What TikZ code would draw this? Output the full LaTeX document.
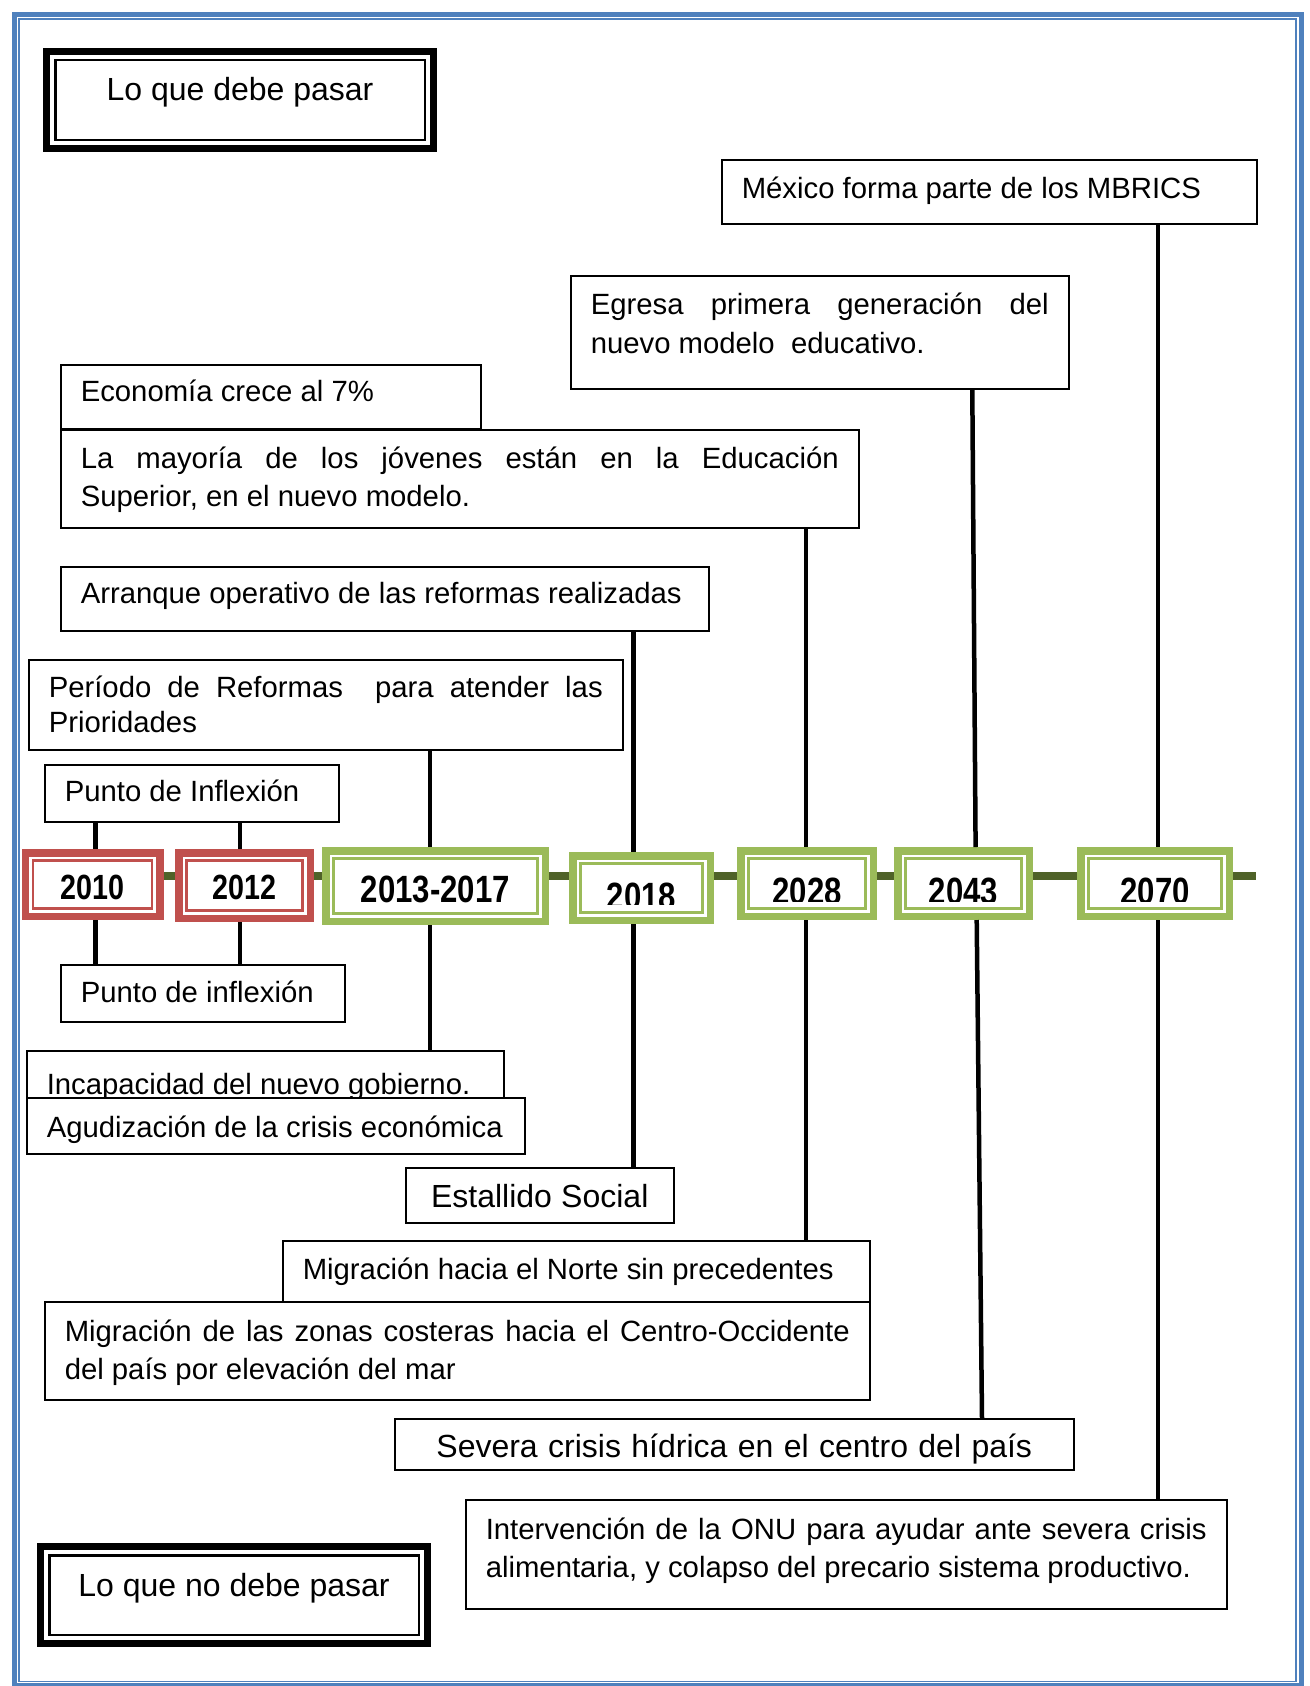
\documentclass[tikz,border=0pt]{standalone}
\usepackage{fontspec}
\setmainfont{Liberation Sans}
\usepackage{graphicx}
\definecolor{frameblue}{HTML}{4F81BD}
\definecolor{yrred}{HTML}{C0504D}
\definecolor{yrgreen}{HTML}{9BBB59}
\definecolor{tlolive}{HTML}{4F6228}
\newcommand\bodyfont{\fontsize{29.3}{38.7}\selectfont}
\newcommand\bigtxt{\fontsize{32}{38}\selectfont}
\newcommand\yrfontA{\fontsize{35}{40}\selectfont\bfseries}
\newcommand\yrfontB{\fontsize{38}{44}\selectfont\bfseries}
\newcommand\narrowtxt[1]{\scalebox{0.82}[1]{#1}}
\newcommand\natspace{\spaceskip=0pt\xspaceskip=0pt\relax}
\begin{document}
\begin{tikzpicture}[x=1pt,y=-1pt,
  box/.style={draw, line width=1.5pt, fill=white, anchor=north west, inner xsep=20pt, inner ysep=0pt, align=left, font=\bodyfont, execute at begin node=\natspace},
  yrbox/.style={draw=#1, line width=7.5pt, fill=white, inner sep=0pt},
  yrinner/.style={draw=#1, line width=2.7pt},
  ttl/.style={draw, line width=7.3pt, fill=white, inner sep=0pt, font=\bigtxt, minimum width=386.7pt, minimum height=96.7pt, execute at begin node=\natspace},
  ttlinner/.style={draw, line width=2.5pt},
  conn/.style={line width=4.5pt},
  tline/.style={tlolive, line width=8pt},
]
\useasboundingbox (0,0) rectangle (1309,1686);
\fill[white] (0,0) rectangle (1309,1686);
% page frame
\draw[frameblue, line width=5.5pt] (14.5,14.5) rectangle (1301.5,1685.5);
\draw[frameblue, line width=1.5pt] (18.8,18.8) rectangle (1296,1681.5);

% timeline
\coordinate (tl0) at (92.5,876);
\coordinate (tl1) at (1256,876);
\draw[tline] (tl0) -- (tl1);

% titles
\node[ttl, text height=48.35pt, text depth=48.35pt] (tdebe) at (240,100) {Lo que debe pasar};
\draw[ttlinner] ([shift={(12.25,12.25)}]tdebe.north west) rectangle ([shift={(-12.25,-12.25)}]tdebe.south east);
\node[ttl, text height=49.35pt, text depth=47.35pt] (tnodebe) at (234,1595) {Lo que no debe pasar};
\draw[ttlinner] ([shift={(12.25,12.25)}]tnodebe.north west) rectangle ([shift={(-12.25,-12.25)}]tnodebe.south east);

% upper boxes
\node[box, minimum width=535pt, minimum height=64pt, text width=495pt, text height=39pt, text depth=25pt] (mexico) at (721,159) {México forma parte de los MBRICS};
\node[box, minimum width=498pt, minimum height=113pt, text width=458pt, text height=39pt, text depth=74pt] (egresa) at (570,275)
  {\makebox[458pt][s]{Egresa primera generación del}\\nuevo modelo\ \ educativo.};
\node[box, minimum width=420pt, minimum height=64pt, text width=380pt, text height=37pt, text depth=27pt] (economia) at (60,364) {Economía crece al 7\%};
\node[box, minimum width=798pt, minimum height=98pt, text width=758pt, text height=38.5pt, text depth=59.5pt] (mayoria) at (60,429)
  {\makebox[758pt][s]{La mayoría de los jóvenes están en la Educación}\\Superior, en el nuevo modelo.};
\node[box, minimum width=648pt, minimum height=64pt, text width=608pt, text height=37pt, text depth=27pt] (arranque) at (60,566) {Arranque operativo de las reformas realizadas};
\node[box, minimum width=594pt, minimum height=90pt, text width=554pt, text height=38pt, text depth=52pt, font=\fontsize{29.3}{34.4}\selectfont] (periodo) at (28,659)
  {\makebox[554pt][s]{Período de Reformas\ \ para atender las}\\Prioridades};
\node[box, minimum width=294pt, minimum height=57pt, text width=254pt, text height=37pt, text depth=20pt] (pinf1) at (44,764) {Punto de Inflexión};

% lower boxes
\node[box, minimum width=284pt, minimum height=57pt, text width=244pt, text height=38pt, text depth=19pt] (pinf2) at (60,964) {Punto de inflexión};
\node[box, minimum width=477pt, minimum height=48pt, text width=437pt, text height=44pt, text depth=4pt] (incap) at (26,1050) {Incapacidad del nuevo gobierno.};
\node[box, minimum width=498pt, minimum height=56pt, text width=458pt, text height=40pt, text depth=16pt] (agud) at (26,1097) {Agudización de la crisis económica};
\node[box, minimum width=268pt, minimum height=55pt, text width=228pt, text height=40pt, text depth=15pt, align=center, font=\bigtxt] (estallido) at (405,1167) {Estallido Social};
\node[box, minimum width=587pt, minimum height=61pt, text width=547pt, text height=39pt, text depth=22pt] (norte) at (282,1240) {Migración hacia el Norte sin precedentes};
\node[box, minimum width=825pt, minimum height=98pt, text width=785pt, text height=40pt, text depth=58pt, font=\fontsize{29.3}{37.6}\selectfont] (costas) at (44,1301)
  {\makebox[785pt][s]{Migración de las zonas costeras hacia el Centro-Occidente}\\del país por elevación del mar};
\node[box, minimum width=679pt, minimum height=51pt, text width=639pt, text height=39pt, text depth=12pt, align=center, font=\bigtxt] (severa) at (394,1418) {Severa crisis hídrica en el centro del país};
\node[box, minimum width=761pt, minimum height=109pt, text width=721pt, text height=40pt, text depth=69pt, font=\fontsize{29.3}{38}\selectfont] (interv) at (465,1499)
  {\makebox[721pt][s]{Intervención de la ONU para ayudar ante severa crisis}\\alimentaria, y colapso del precario sistema productivo.};

% year boxes
\node[yrbox=yrred, minimum width=134.5pt, minimum height=63.5pt, text height=46.25pt, text depth=17.25pt, font=\yrfontA] (y2010) at (92.5,884.5) {\narrowtxt{2010}};
\draw[yrinner=yrred] ([shift={(11.6,11.6)}]y2010.north west) rectangle ([shift={(-11.6,-11.6)}]y2010.south east);
\node[yrbox=yrred, minimum width=131.5pt, minimum height=65.5pt, text height=46.25pt, text depth=19.25pt, font=\yrfontA] (y2012) at (244.5,885.5) {\narrowtxt{2012}};
\draw[yrinner=yrred] ([shift={(11.6,11.6)}]y2012.north west) rectangle ([shift={(-11.6,-11.6)}]y2012.south east);
\node[yrbox=yrgreen, minimum width=219.5pt, minimum height=70.5pt, text height=51.75pt, text depth=18.75pt, font=\yrfontB] (y1317) at (435.5,886) {\narrowtxt{2013-2017}};
\draw[yrinner=yrgreen] ([shift={(11.6,11.6)}]y1317.north west) rectangle ([shift={(-11.6,-11.6)}]y1317.south east);
\node[yrbox=yrgreen, minimum width=137.5pt, minimum height=64.5pt, text height=53.25pt, text depth=11.25pt, font=\yrfontB] (y2018) at (641.5,888) {\narrowtxt{2018}};
\fill[white] ([shift={(13,-19)}]y2018.south west) rectangle ([shift={(-13,-13)}]y2018.south east);
\draw[yrinner=yrgreen] ([shift={(11.6,11.6)}]y2018.north west) rectangle ([shift={(-11.6,-11.6)}]y2018.south east);
\node[yrbox=yrgreen, minimum width=132.5pt, minimum height=65.5pt, text height=53.25pt, text depth=12.25pt, font=\yrfontB] (y2028) at (807,883.5) {\narrowtxt{2028}};
\fill[white] ([shift={(13,-18)}]y2028.south west) rectangle ([shift={(-13,-13)}]y2028.south east);
\draw[yrinner=yrgreen] ([shift={(11.6,11.6)}]y2028.north west) rectangle ([shift={(-11.6,-11.6)}]y2028.south east);
\node[yrbox=yrgreen, minimum width=131.5pt, minimum height=65.5pt, text height=53.25pt, text depth=12.25pt, font=\yrfontB] (y2043) at (963.5,883.5) {\narrowtxt{2043}};
\fill[white] ([shift={(13,-18)}]y2043.south west) rectangle ([shift={(-13,-13)}]y2043.south east);
\draw[yrinner=yrgreen] ([shift={(11.6,11.6)}]y2043.north west) rectangle ([shift={(-11.6,-11.6)}]y2043.south east);
\node[yrbox=yrgreen, minimum width=148.5pt, minimum height=65.5pt, text height=53.25pt, text depth=12.25pt, font=\yrfontB] (y2070) at (1155,883.5) {\narrowtxt{2070}};
\fill[white] ([shift={(13,-18)}]y2070.south west) rectangle ([shift={(-13,-13)}]y2070.south east);
\draw[yrinner=yrgreen] ([shift={(11.6,11.6)}]y2070.north west) rectangle ([shift={(-11.6,-11.6)}]y2070.south east);

% connector x positions
\coordinate (c2010) at (95.7,0);
\coordinate (c2012) at (240,0);
\coordinate (c1317) at (430,0);
\coordinate (c2018) at (633.5,0);
\coordinate (c2028) at (806,0);
\coordinate (c2070) at (1158,0);
\coordinate (a2043) at (972.3,0);
\coordinate (b2043) at (975.6,0);
\coordinate (d2043) at (976.7,0);
\coordinate (e2043) at (982,0);

% connectors
\draw[conn] (pinf1.south -| c2010) -- (y2010.north -| c2010);
\draw[conn] (y2010.south -| c2010) -- (pinf2.north -| c2010);
\draw[conn] (pinf1.south -| c2012) -- (y2012.north -| c2012);
\draw[conn] (y2012.south -| c2012) -- (pinf2.north -| c2012);
\draw[conn] (periodo.south -| c1317) -- (y1317.north -| c1317);
\draw[conn] (y1317.south -| c1317) -- (incap.north -| c1317);
\draw[conn] (arranque.south -| c2018) -- (y2018.north -| c2018);
\draw[conn] (y2018.south -| c2018) -- (estallido.north -| c2018);
\draw[conn] (mayoria.south -| c2028) -- (y2028.north -| c2028);
\draw[conn] (y2028.south -| c2028) -- (norte.north -| c2028);
\draw[conn] (egresa.south -| a2043) -- (y2043.north -| b2043);
\draw[conn] (y2043.south -| d2043) -- (severa.north -| e2043);
\draw[conn] (mexico.south -| c2070) -- (y2070.north -| c2070);
\draw[conn] (y2070.south -| c2070) -- (interv.north -| c2070);
\end{tikzpicture}
\end{document}
